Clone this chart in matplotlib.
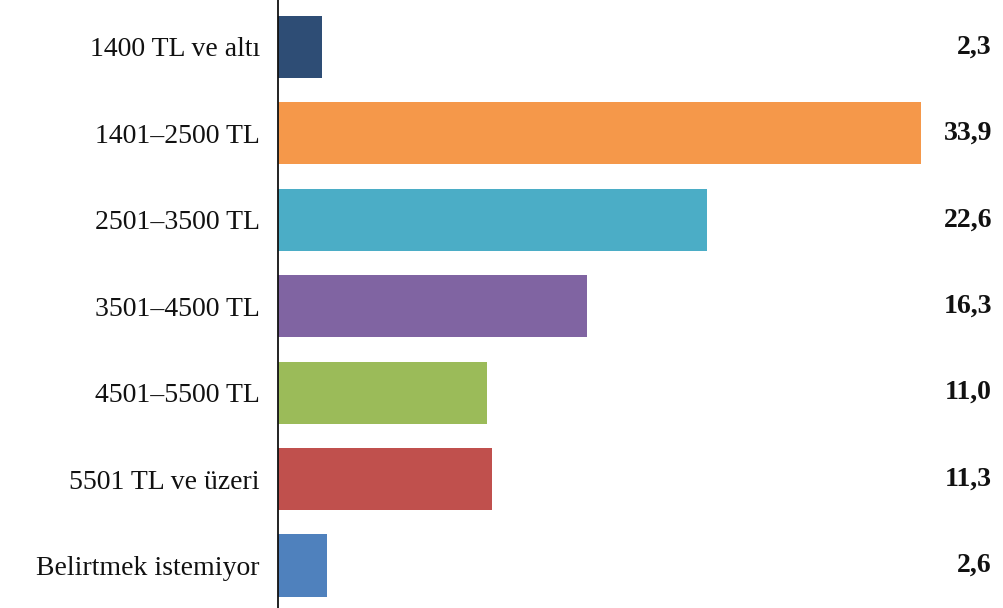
import matplotlib.pyplot as plt
import matplotlib.transforms as mtransforms

# Gelir grupları ve yüzdeler
categories = ["1400 TL ve altı", "1401–2500 TL", "2501–3500 TL", "3501–4500 TL",
              "4501–5500 TL", "5501 TL ve üzeri", "Belirtmek istemiyor"]
values = [2.3, 33.9, 22.6, 16.3, 11.0, 11.3, 2.6]
labels = ["2,3", "33,9", "22,6", "16,3", "11,0", "11,3", "2,6"]
colors = ["#2E4D75", "#F5984A", "#4BADC6", "#8064A2", "#9BBB59", "#C0504D", "#4F81BD"]

plt.rcParams['font.family'] = ['Liberation Serif', 'DejaVu Serif']

fig = plt.figure(figsize=(10.04, 6.08), dpi=100)
ax = fig.add_axes([278 / 1004, 0, 1 - 278 / 1004, 1])

y = list(range(len(categories)))
ax.barh(y, values, height=0.72, color=colors)

ax.set_ylim(6.49, -0.54)
ax.set_xlim(0, (1004 - 278) / 18.97)

ax.set_yticks(y)
ax.set_yticklabels(categories, fontsize=20, color="#111111")
ax.tick_params(axis='y', length=0, pad=13)
ax.set_xticks([])

for s in ['top', 'right', 'bottom']:
    ax.spines[s].set_visible(False)
ax.spines['left'].set_linewidth(1.3)
ax.spines['left'].set_color("#111111")

trans = mtransforms.blended_transform_factory(ax.transAxes, ax.transData)
for yi, lab in zip(y, labels):
    ax.text((992 - 278) / (1004 - 278), yi, lab, transform=trans, ha='right', va='center',
            fontsize=20, fontweight='bold', color="#111111")

fig.savefig("out.png", dpi=100)
